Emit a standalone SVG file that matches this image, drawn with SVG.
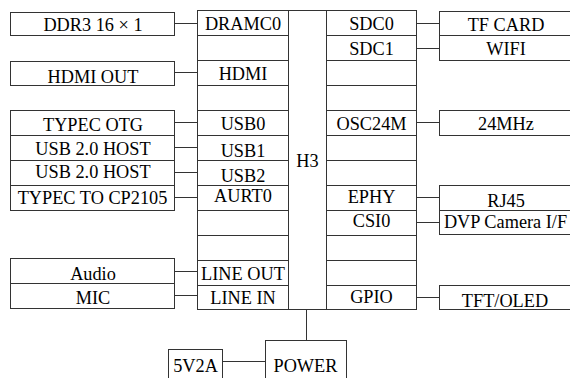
<svg xmlns="http://www.w3.org/2000/svg" width="570" height="378" viewBox="0 0 570 378">
<style>
.b{fill:#fff;stroke:#333;stroke-width:1}
text{font-family:"Liberation Serif","Times New Roman",serif;font-size:18.3px;fill:#000;text-anchor:middle}
.c{stroke:#333;stroke-width:1;fill:none}
</style>
<rect width="570" height="378" fill="#fff"/>
<g id="connectors">
<path class="c" d="M174.5 23.5H197.5M174.5 72.5H197.5M174.5 122.5H197.5M174.5 147.5H197.5M174.5 172.5H197.5M174.5 197.5H197.5M174.5 271.5H197.5M174.5 295.5H197.5"/>
<path class="c" d="M416.5 23.5H439.5M416.5 48.5H439.5M416.5 122.5H439.5M416.5 197.5H439.5M416.5 222.5H439.5M416.5 297.5H439.5"/>
<path class="c" d="M306.5 310H306.5V340.5M222.5 361.5H265.5"/>
</g>
<g id="H3">
<rect class="b" x="197.5" y="10.5" width="219" height="299"/>
<path class="c" d="M288.5 10.5V309.5M326.5 10.5V309.5"/>
<path class="c" d="M197.5 35.5H288.5M197.5 60.5H288.5M197.5 85.5H288.5M197.5 110.5H288.5M197.5 135.5H288.5M197.5 160.5H288.5M197.5 185.5H288.5M197.5 210.5H288.5M197.5 235.5H288.5M197.5 260.5H288.5M197.5 285.5H288.5"/>
<path class="c" d="M326.5 35.5H416.5M326.5 60.5H416.5M326.5 85.5H416.5M326.5 110.5H416.5M326.5 135.5H416.5M326.5 160.5H416.5M326.5 185.5H416.5M326.5 210.5H416.5M326.5 235.5H416.5M326.5 260.5H416.5M326.5 285.5H416.5"/>
<text x="307.5" y="167">H3</text>
<text x="243" y="29.5">DRAMC0</text>
<text x="243" y="80">HDMI</text>
<text x="243" y="130">USB0</text>
<text x="243" y="156.5">USB1</text>
<text x="243" y="181.5">USB2</text>
<text x="243" y="201.5">AURT0</text>
<text x="243" y="280">LINE OUT</text>
<text x="243" y="303.5">LINE IN</text>
<text x="371.5" y="29.5">SDC0</text>
<text x="371.5" y="55">SDC1</text>
<text x="371.5" y="130">OSC24M</text>
<text x="371.5" y="203">EPHY</text>
<text x="371.5" y="227">CSI0</text>
<text x="371.5" y="303">GPIO</text>
</g>
<g id="ddr3"><rect class="b" x="10.5" y="12.5" width="164" height="23"/><text x="93" y="30.5">DDR3 16 × 1</text></g>
<g id="hdmi-out"><rect class="b" x="10.5" y="61.5" width="164" height="24"/><text x="93" y="83">HDMI OUT</text></g>
<g id="typec-otg"><rect class="b" x="10.5" y="110.5" width="164" height="25"/><text x="93" y="130.5">TYPEC OTG</text></g>
<g id="usb-host1"><rect class="b" x="10.5" y="135.5" width="164" height="25"/><text x="93" y="155">USB 2.0 HOST</text></g>
<g id="usb-host2"><rect class="b" x="10.5" y="160.5" width="164" height="25"/><text x="93" y="177.5">USB 2.0 HOST</text></g>
<g id="cp2105"><rect class="b" x="10.5" y="185.5" width="164" height="25"/><text x="92.5" y="204">TYPEC TO CP2105</text></g>
<g id="audio"><rect class="b" x="10.5" y="258.5" width="164" height="25"/><text x="93" y="280">Audio</text></g>
<g id="mic"><rect class="b" x="10.5" y="283.5" width="164" height="25"/><text x="93" y="304">MIC</text></g>
<g id="tf-card"><rect class="b" x="439.5" y="11.5" width="140" height="24"/><text x="506" y="30.5">TF CARD</text></g>
<g id="wifi"><rect class="b" x="439.5" y="35.5" width="140" height="25"/><text x="506" y="55">WIFI</text></g>
<g id="osc"><rect class="b" x="439.5" y="110.5" width="140" height="25"/><text x="506" y="129.5">24MHz</text></g>
<g id="rj45"><rect class="b" x="439.5" y="185.5" width="140" height="25"/><text x="506" y="206.5">RJ45</text></g>
<g id="dvp"><rect class="b" x="439.5" y="210.5" width="140" height="24"/><text x="505.5" y="227.5">DVP Camera I/F</text></g>
<g id="tft"><rect class="b" x="439.5" y="285.5" width="140" height="24"/><text x="505" y="307">TFT/OLED</text></g>
<g id="power"><rect class="b" x="265.5" y="340.5" width="81" height="50"/><text x="305.5" y="371.5">POWER</text></g>
<g id="5v2a"><rect class="b" x="168.5" y="349.5" width="54" height="40"/><text x="195.5" y="372">5V2A</text></g>
</svg>
